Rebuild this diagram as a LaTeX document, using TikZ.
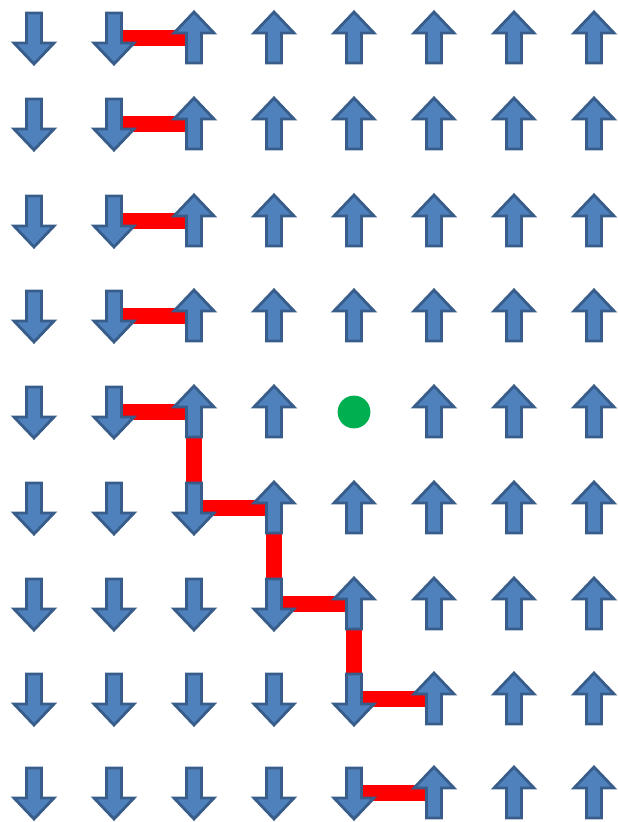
\documentclass[tikz,border=0pt]{standalone}
\definecolor{SpinFill}{HTML}{4F81BD}
\definecolor{SpinEdge}{HTML}{385D8A}
\definecolor{WallRed}{HTML}{FF0000}
\definecolor{HoleGreen}{HTML}{00B050}
\tikzset{
  spin/.style={fill=SpinFill,draw=SpinEdge,line width=2pt,line join=miter},
  spinup/.pic={\path[spin] (-7.5,25) -- (-7.5,-5) -- (-20,-5) -- (0,-26)
    -- (20,-5) -- (7.5,-5) -- (7.5,25) -- cycle;},
  spindown/.pic={\path[spin] (-7.5,-25) -- (-7.5,5) -- (-20,5) -- (0,26)
    -- (20,5) -- (7.5,5) -- (7.5,-25) -- cycle;},
  wall/.style={draw=WallRed,line width=0.42cm,line cap=butt,line join=miter},
  hole/.style={circle,fill=HoleGreen,inner sep=0pt,minimum size=0.82cm}
}
\begin{document}
\begin{tikzpicture}[x=0.025cm,y=-0.025cm]
  \useasboundingbox (0,0) rectangle (618,822);
  % grid points, row/y/number of down spins
  \foreach \r/\y in {1/38,2/124,3/221,4/316,5/412,6/508,7/604,8/699,9/793}
    \foreach \c in {1,...,8} {\coordinate (s\r-\c) at ({80*\c-46},\y);}
  % domain wall
  \foreach \r in {1,2,3,4} {\draw[wall] (s\r-2) -- (s\r-3);}
  \draw[wall] (s5-2) -- (s5-3) -- (s6-3) -- (s6-4) -- (s7-4) -- (s7-5)
    -- (s8-5) -- (s8-6);
  \draw[wall] (s9-5) -- (s9-6);
  % spins
  \foreach \r/\n in {1/2,2/2,3/2,4/2,5/2,6/3,7/4,8/5,9/5}
    \foreach \c in {1,...,8} {
      \ifnum\r\c=55 \relax\else
        \ifnum\c>\n \pic at (s\r-\c) {spinup};
        \else \pic at (s\r-\c) {spindown};
        \fi
      \fi
    }
  \node[hole] (gap) at (s5-5) {};
\end{tikzpicture}
\end{document}
